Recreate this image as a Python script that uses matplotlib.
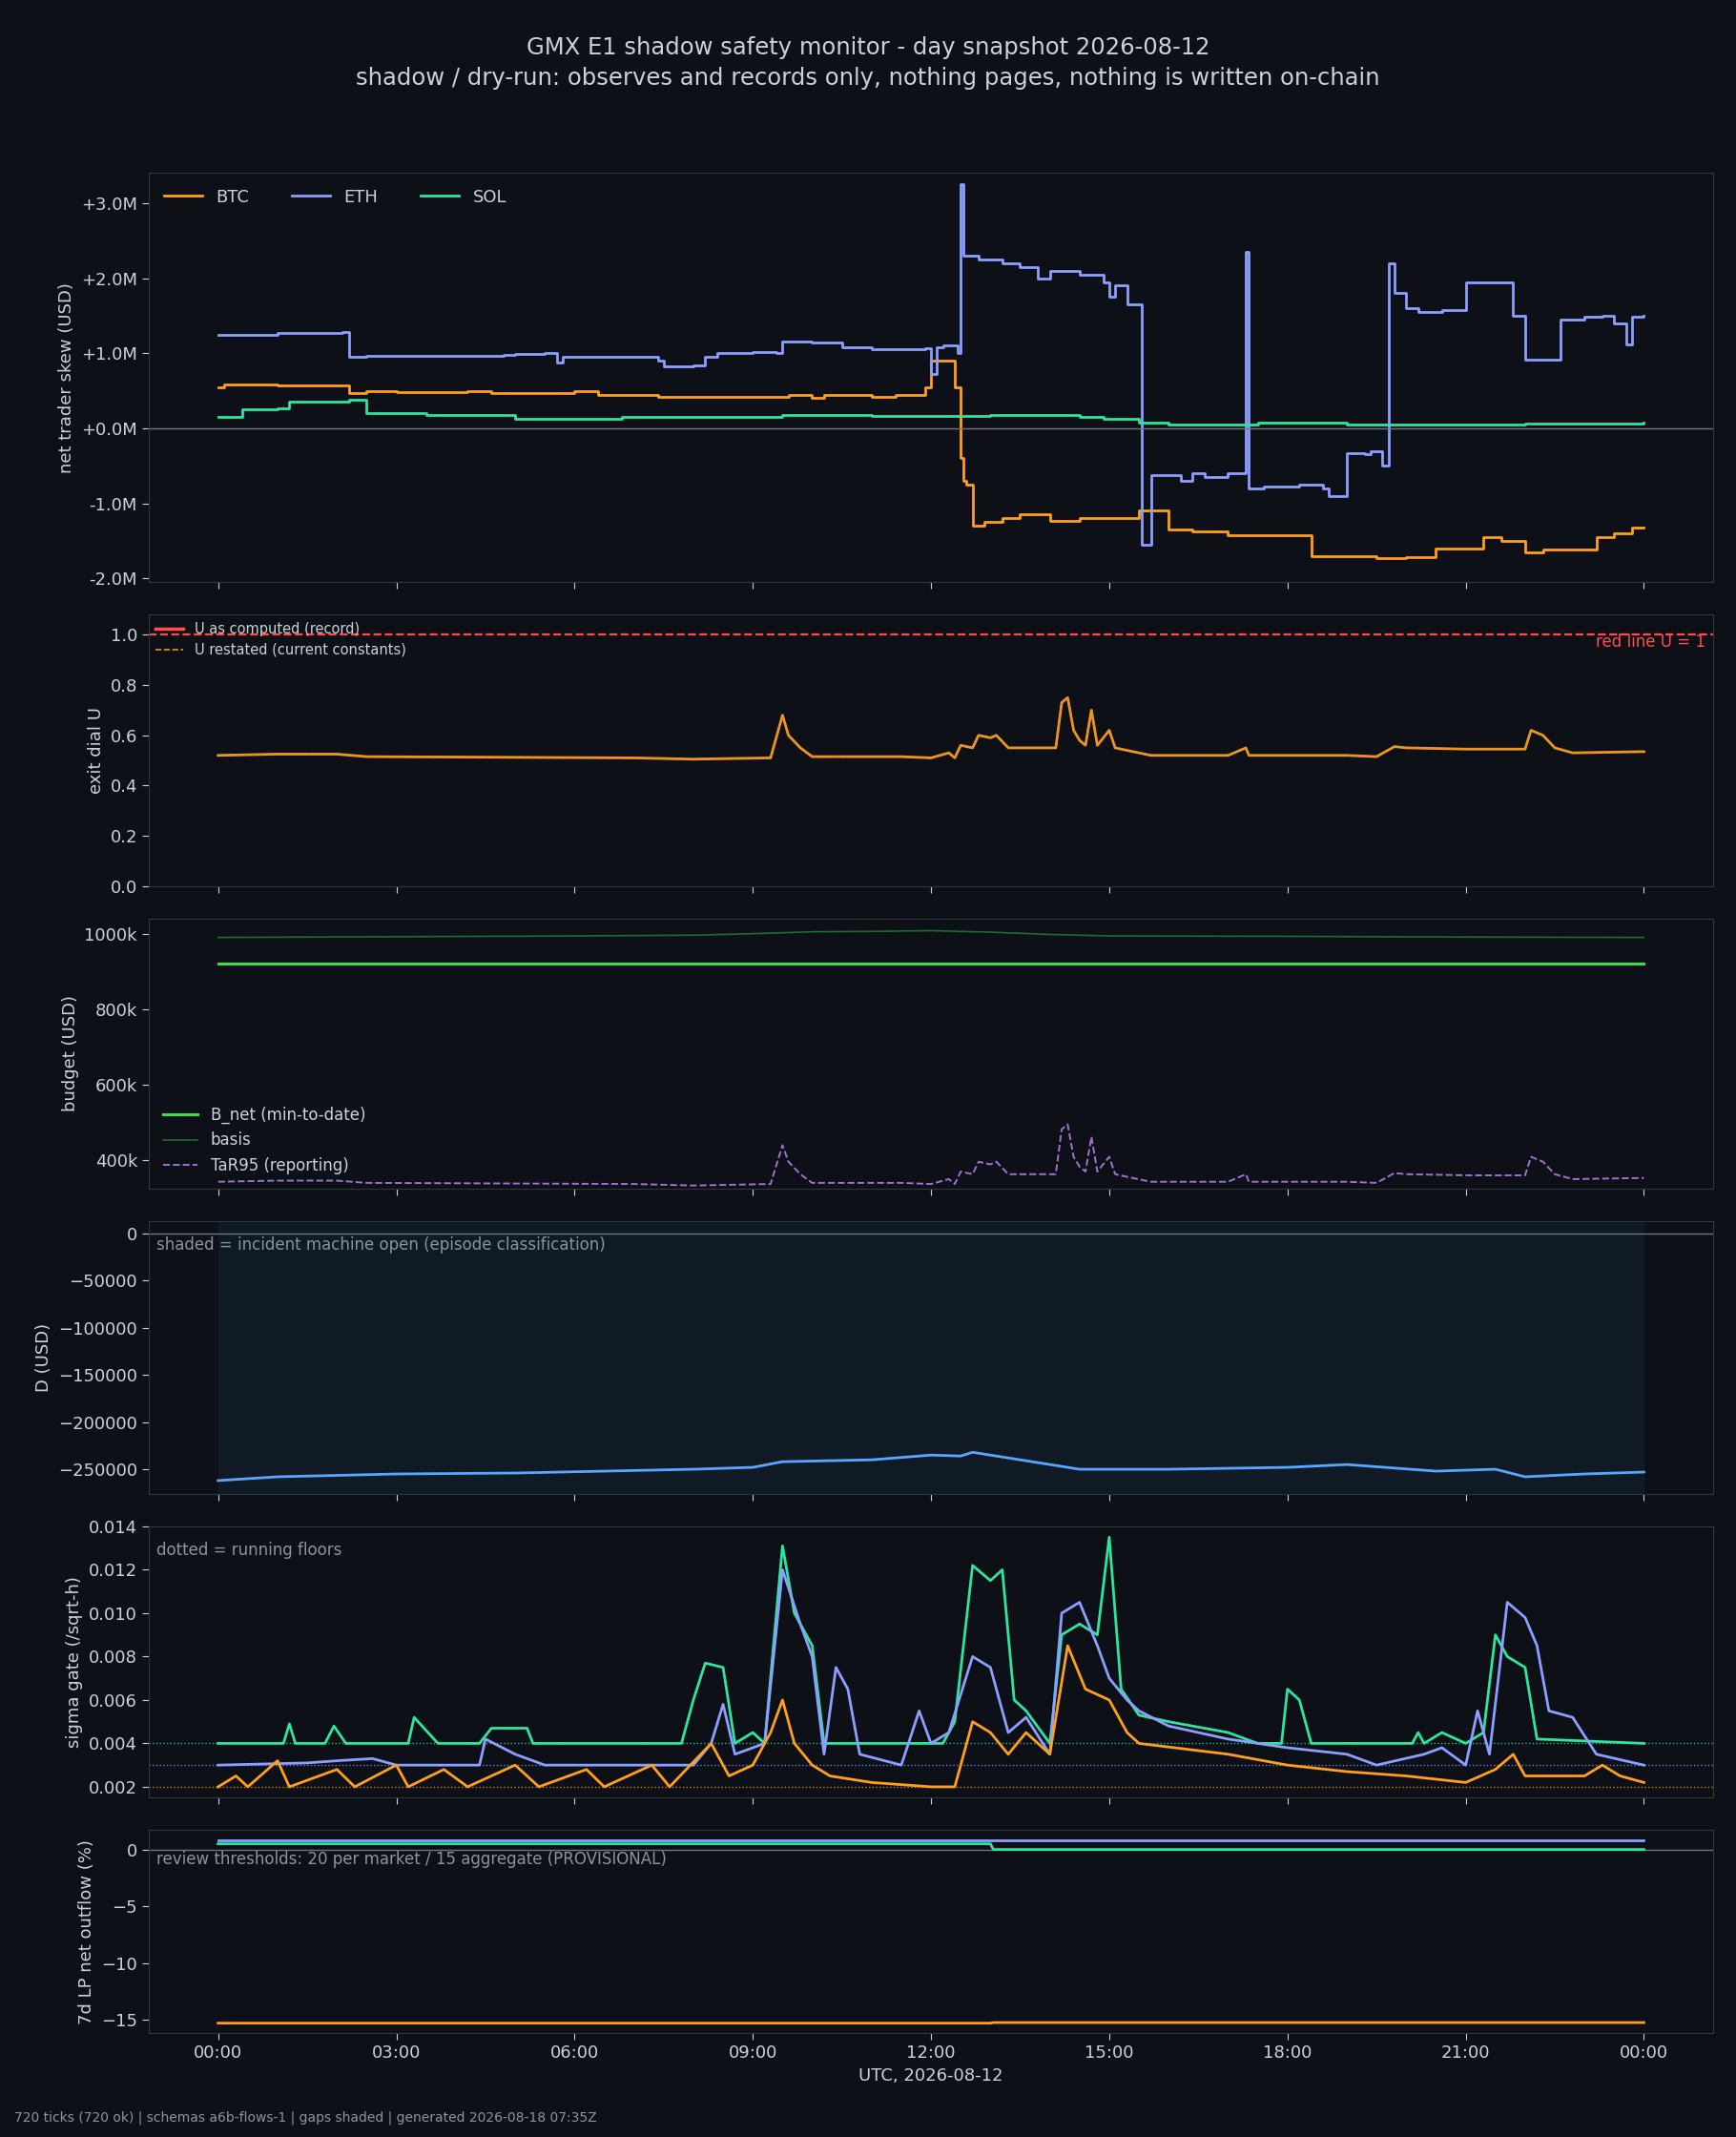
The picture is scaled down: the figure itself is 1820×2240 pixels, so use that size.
import matplotlib
matplotlib.use("Agg")
import matplotlib.pyplot as plt
from matplotlib.ticker import FuncFormatter

eth_skew_h = [0, 1.0, 2.1, 2.2, 2.5, 3.4, 4.8, 5.0, 5.5, 5.7, 5.8, 7.0, 7.4, 7.5, 8.0, 8.2, 8.4, 9.0, 9.4, 9.5,
              10.0, 10.5, 11.0, 11.5, 11.9, 12.0, 12.1, 12.2, 12.45, 12.5, 12.55, 12.8, 13.2, 13.5,
              13.8, 14.0, 14.5, 14.9, 15.0, 15.1, 15.3, 15.55, 15.7, 16.0, 16.2, 16.4, 16.6, 17.0, 17.3, 17.35,
              17.6, 18.2, 18.6, 18.7, 19.0, 19.3, 19.4, 19.6, 19.7, 19.8, 20.0, 20.2, 20.6, 21.0, 21.7, 21.8, 22.0,
              22.6, 23.0, 23.3, 23.5, 23.7, 23.8, 24.0]
eth_skew = [1.25, 1.27, 1.28, 0.95, 0.97, 0.96, 0.98, 0.99, 1.0, 0.87, 0.95, 0.95, 0.9, 0.83, 0.84, 0.95, 1.0,
            1.02, 1.0, 1.15, 1.14, 1.08, 1.05, 1.06, 1.07, 0.72, 1.08, 1.1, 1.0, 3.25, 2.3, 2.25, 2.2,
            2.15, 2.0, 2.1, 2.05, 1.95, 1.75, 1.9, 1.65, -1.55, -0.62, -0.62, -0.7, -0.6, -0.65, -0.6, 2.35, -0.8,
            -0.78, -0.75, -0.8, -0.9, -0.33, -0.35, -0.3, -0.5, 2.2, 1.8, 1.6, 1.55, 1.58, 1.95, 1.95, 1.5, 0.92,
            1.45, 1.48, 1.5, 1.4, 1.12, 1.48, 1.5]
btc_skew_h = [0, 0.1, 1.0, 2.2, 2.5, 3.0, 4.0, 4.2, 4.6, 5.5, 6.0, 6.4, 7.2, 7.4, 9.0, 9.6, 10.0, 10.2, 11.0, 11.4,
              11.8, 11.9, 12.0, 12.3, 12.4, 12.5, 12.55, 12.6, 12.7, 12.9, 13.2, 13.5, 14.0, 14.5, 15.0, 15.5, 16.0,
              16.4, 17.0, 18.0, 18.4, 19.0, 19.5, 20.0, 20.5, 21.0, 21.3, 21.6, 22.0, 22.3, 23.0, 23.2, 23.5, 23.8, 24.0]
btc_skew = [0.55, 0.58, 0.57, 0.47, 0.5, 0.48, 0.48, 0.5, 0.47, 0.47, 0.5, 0.45, 0.45, 0.42, 0.42, 0.44, 0.4, 0.44,
            0.42, 0.44, 0.44, 0.55, 0.9, 0.9, 0.55, -0.4, -0.7, -0.75, -1.3, -1.25, -1.2, -1.15, -1.23, -1.2, -1.2,
            -1.1, -1.35, -1.38, -1.42, -1.42, -1.7, -1.7, -1.73, -1.72, -1.6, -1.6, -1.45, -1.5, -1.65, -1.62, -1.62,
            -1.45, -1.4, -1.32, -1.32]
sol_skew_h = [0, 0.4, 1.0, 1.2, 2.2, 2.5, 3.5, 5.0, 6.0, 6.8, 9.5, 11.0, 13.0, 14.5, 14.9, 15.5, 16.0, 17.5, 19.0,
              22.0, 24.0]
sol_skew = [0.15, 0.25, 0.27, 0.35, 0.38, 0.2, 0.18, 0.12, 0.12, 0.15, 0.18, 0.17, 0.18, 0.15, 0.12, 0.08, 0.05,
            0.08, 0.05, 0.06, 0.07]

u_h = [0, 1, 2, 2.5, 7, 8, 9.3, 9.5, 9.6, 9.8, 10, 11.5, 12, 12.3, 12.4, 12.5, 12.7, 12.8, 13.0, 13.1, 13.3, 14.1,
       14.2, 14.3, 14.4, 14.5, 14.6, 14.7, 14.8, 15.0, 15.1, 15.3, 15.7, 17.0, 17.3, 17.35, 19.0, 19.5, 19.8, 20.0,
       21.0, 22.0, 22.1, 22.3, 22.5, 22.8, 24.0]
u_record = [0.52, 0.525, 0.525, 0.515, 0.51, 0.505, 0.51, 0.68, 0.6, 0.55, 0.515, 0.515, 0.51, 0.53, 0.51, 0.56,
            0.55, 0.6, 0.59, 0.6, 0.55, 0.55, 0.73, 0.75, 0.62, 0.58, 0.56, 0.7, 0.56, 0.62, 0.55, 0.54, 0.52, 0.52,
            0.55, 0.52, 0.52, 0.515, 0.555, 0.55, 0.545, 0.545, 0.62, 0.6, 0.55, 0.53, 0.535]
tar95_k = [343, 346, 346, 340, 337, 333, 337, 440, 396, 363, 340, 340, 337, 350, 337, 370, 363, 396, 389, 396, 363,
           363, 482, 495, 409, 383, 370, 462, 370, 409, 363, 356, 343, 343, 363, 343, 343, 340, 366, 363, 360, 360,
           409, 396, 363, 350, 353]

budget_h = [0, 3, 6, 8, 9, 10, 11, 12, 13, 14, 15, 18, 21, 24]
basis_k = [990, 992, 994, 996, 1000, 1005, 1006, 1008, 1004, 998, 994, 993, 991, 990]
b_net_k = [920] * len(budget_h)

d_h = [0, 1, 3, 5, 8, 9, 9.5, 11, 12, 12.5, 12.7, 13.5, 14.5, 16, 18, 19, 20.5, 21.5, 22, 23, 24]
d_usd = [-262000, -258000, -255000, -254000, -250000, -248000, -242000, -240000, -235000, -236000, -232000,
         -240000, -250000, -250000, -248000, -245000, -252000, -250000, -258000, -255000, -253000]

sol_sig_h = [0, 1.1, 1.2, 1.3, 1.8, 1.95, 2.15, 3.2, 3.3, 3.5, 3.7, 4.4, 4.6, 5.2, 5.3, 7.8, 8.0, 8.2, 8.5, 8.7,
             9.0, 9.2, 9.5, 9.7, 10.0, 10.2, 12.2, 12.4, 12.7, 13.0, 13.2, 13.4, 13.6, 14.0, 14.2, 14.5, 14.8, 15.0,
             15.2, 15.5, 16.0, 17.0, 17.5, 17.9, 18.0, 18.2, 18.4, 20.1, 20.2, 20.3, 20.6, 21.0, 21.3, 21.5, 21.7,
             22.0, 22.2, 24.0]
sol_sig = [0.004, 0.004, 0.0049, 0.004, 0.004, 0.0048, 0.004, 0.004, 0.0052, 0.0046, 0.004, 0.004, 0.0047, 0.0047,
           0.004, 0.004, 0.006, 0.0077, 0.0075, 0.004, 0.0045, 0.004, 0.0131, 0.0100, 0.0085, 0.004, 0.004, 0.005,
           0.0122, 0.0115, 0.0120, 0.006, 0.0055, 0.004, 0.009, 0.0095, 0.009, 0.0135, 0.0065, 0.0053, 0.005,
           0.0045, 0.004, 0.004, 0.0065, 0.006, 0.004, 0.004, 0.0045, 0.004, 0.0045, 0.004, 0.0045, 0.009, 0.008,
           0.0075, 0.0042, 0.004]
eth_sig_h = [0, 1.5, 2.0, 2.6, 3.0, 4.4, 4.5, 5.0, 5.5, 8.0, 8.3, 8.5, 8.7, 9.2, 9.5, 9.8, 10.0, 10.2, 10.4, 10.6,
             10.8, 11.5, 11.8, 12.0, 12.3, 12.7, 13.0, 13.3, 13.6, 14.0, 14.2, 14.5, 14.8, 15.0, 15.3, 15.5, 16.0,
             17.0, 18.0, 19.0, 19.5, 20.3, 20.6, 21.0, 21.2, 21.4, 21.7, 22.0, 22.2, 22.4, 22.8, 23.2, 24.0]
eth_sig = [0.003, 0.0031, 0.0032, 0.0033, 0.003, 0.003, 0.0042, 0.0035, 0.003, 0.003, 0.004, 0.0058, 0.0035, 0.004,
           0.012, 0.0095, 0.008, 0.0035, 0.0075, 0.0065, 0.0035, 0.003, 0.0055, 0.004, 0.0045, 0.008, 0.0075,
           0.0045, 0.0052, 0.0035, 0.010, 0.0105, 0.0085, 0.007, 0.006, 0.0055, 0.0048, 0.0042, 0.0038, 0.0035,
           0.003, 0.0035, 0.0038, 0.003, 0.0055, 0.0035, 0.0105, 0.0098, 0.0085, 0.0055, 0.0052, 0.0035, 0.003]
btc_sig_h = [0, 0.3, 0.5, 1.0, 1.2, 2.0, 2.3, 3.0, 3.2, 3.8, 4.2, 5.0, 5.4, 6.2, 6.5, 7.3, 7.6, 8.3, 8.6, 9.0, 9.3,
             9.5, 9.7, 10.0, 10.3, 11.0, 12.0, 12.4, 12.7, 13.0, 13.3, 13.6, 14.0, 14.3, 14.6, 15.0, 15.3, 15.5,
             17.0, 18.0, 19.0, 20.0, 21.0, 21.5, 21.8, 22.0, 23.0, 23.3, 23.6, 24.0]
btc_sig = [0.002, 0.0025, 0.002, 0.0032, 0.002, 0.0028, 0.002, 0.003, 0.002, 0.0028, 0.002, 0.003, 0.002, 0.0028,
           0.002, 0.003, 0.002, 0.004, 0.0025, 0.003, 0.0045, 0.006, 0.004, 0.003, 0.0025, 0.0022, 0.002, 0.002,
           0.005, 0.0045, 0.0035, 0.0045, 0.0035, 0.0085, 0.0065, 0.006, 0.0045, 0.004, 0.0035, 0.003, 0.0027,
           0.0025, 0.0022, 0.0028, 0.0035, 0.0025, 0.0025, 0.003, 0.0025, 0.0022]
sigma_floors = {"BTC": 0.002, "ETH": 0.003, "SOL": 0.004}

lp_h = [0, 13.0, 13.05, 24]
lp_btc = [-15.3, -15.3, -15.25, -15.25]
lp_eth = [0.8, 0.8, 0.8, 0.8]
lp_sol = [0.5, 0.5, 0.0, 0.0]

# ---- style ----
BG = "#0d1117"
FG = "#c9d1d9"
SPINE = "#30363d"
C_BTC, C_ETH, C_SOL = "#ff9f1c", "#8c9eff", "#2ee59d"
plt.rcParams.update({
    "figure.facecolor": BG, "axes.facecolor": BG, "axes.edgecolor": SPINE,
    "text.color": FG, "axes.labelcolor": FG, "xtick.color": FG, "ytick.color": FG,
    "font.size": 13, "axes.labelsize": 13, "xtick.labelsize": 13, "ytick.labelsize": 13,
})

fig = plt.figure(figsize=(18.2, 22.4), dpi=100)
gs = fig.add_gridspec(6, 1, height_ratios=[300, 199, 198, 200, 199, 149],
                      left=0.0856, right=0.987, top=0.919, bottom=0.0485, hspace=0.115)
axes = [fig.add_subplot(gs[0])]
for i in range(1, 6):
    axes.append(fig.add_subplot(gs[i], sharex=axes[0]))

fig.suptitle("GMX E1 shadow safety monitor - day snapshot 2026-08-12\n"
             "shadow / dry-run: observes and records only, nothing pages, nothing is written on-chain",
             fontsize=17.5, y=0.983, color=FG, linespacing=1.4)

# panel 1: skew
ax = axes[0]
ax.step(btc_skew_h, btc_skew, where="post", color=C_BTC, lw=2, label="BTC")
ax.step(eth_skew_h, eth_skew, where="post", color=C_ETH, lw=2, label="ETH")
ax.step(sol_skew_h, sol_skew, where="post", color=C_SOL, lw=2, label="SOL")
ax.axhline(0, color="#6e7681", lw=1)
ax.set_ylim(-2.05, 3.4)
ax.set_yticks([-2, -1, 0, 1, 2, 3])
ax.yaxis.set_major_formatter(FuncFormatter(lambda v, p: f"{v:+.1f}M"))
ax.set_ylabel("net trader skew (USD)")
ax.legend(loc="upper left", ncol=3, frameon=False, fontsize=13, handlelength=2.2, columnspacing=2.5)

# panel 2: exit dial U
ax = axes[1]
ax.plot(u_h, u_record, color="#ff8c2a", lw=2)
ax.plot(u_h, u_record, color="#d4a017", lw=1.2, ls="--", label="U restated (current constants)")
ax.plot([], [], color="#ff4d4d", lw=2.5, label="U as computed (record)")
ax.axhline(1.0, color="#ff4d4d", lw=1.6, ls="--")
ax.set_ylim(0, 1.08)
ax.set_yticks([0, 0.2, 0.4, 0.6, 0.8, 1.0])
ax.set_ylabel("exit dial U")
hs, ls = ax.get_legend_handles_labels()
ax.legend(hs[::-1], ls[::-1], loc="upper left", frameon=False, fontsize=10.5, borderaxespad=0.1, handlelength=2)
ax.text(0.995, 0.93, "red line U = 1", transform=ax.transAxes, ha="right", va="top",
        color="#ff4d4d", fontsize=12)

# panel 3: budget
ax = axes[2]
ax.plot(budget_h, b_net_k, color="#3ddc4f", lw=2.2, label="B_net (min-to-date)")
ax.plot(budget_h, basis_k, color="#1f6b2f", lw=1.2, label="basis")
ax.plot(u_h, tar95_k, color="#a070d0", lw=1.4, ls="--", label="TaR95 (reporting)")
ax.set_ylim(325, 1040)
ax.set_yticks([400, 600, 800, 1000])
ax.yaxis.set_major_formatter(FuncFormatter(lambda v, p: f"{v:.0f}k"))
ax.set_ylabel("budget (USD)")
ax.legend(loc="lower left", frameon=False, fontsize=12, handlelength=2.2)

# panel 4: D
ax = axes[3]
ax.axvspan(0, 24, color="#0f1a24", zorder=0)
ax.axhline(0, color="#6e7681", lw=1)
ax.plot(d_h, d_usd, color="#58a6ff", lw=2)
ax.set_ylim(-276000, 13000)
ax.set_yticks([-250000, -200000, -150000, -100000, -50000, 0])
ax.set_ylabel("D (USD)")
ax.text(0.005, 0.945, "shaded = incident machine open (episode classification)", transform=ax.transAxes,
        ha="left", va="top", color="#8b949e", fontsize=12)

# panel 5: sigma gate
ax = axes[4]
for name, hh, vv, c in [("SOL", sol_sig_h, sol_sig, C_SOL), ("ETH", eth_sig_h, eth_sig, C_ETH),
                        ("BTC", btc_sig_h, btc_sig, C_BTC)]:
    ax.axhline(sigma_floors[name], color=c, lw=1, ls=":", alpha=0.8)
    ax.plot(hh, vv, color=c, lw=2)
ax.set_ylim(0.0015, 0.0140)
ax.set_yticks([0.002, 0.004, 0.006, 0.008, 0.010, 0.012, 0.014])
ax.yaxis.set_major_formatter(FuncFormatter(lambda v, p: f"{v:.3f}"))
ax.set_ylabel("sigma gate (/sqrt-h)")
ax.text(0.005, 0.945, "dotted = running floors", transform=ax.transAxes, ha="left", va="top",
        color="#8b949e", fontsize=12)

# panel 6: LP outflow
ax = axes[5]
ax.axhline(0, color="#6e7681", lw=1)
ax.plot(lp_h, lp_btc, color=C_BTC, lw=2)
ax.plot(lp_h, lp_eth, color=C_ETH, lw=2)
ax.plot(lp_h, lp_sol, color=C_SOL, lw=2)
ax.set_ylim(-16.2, 1.7)
ax.set_yticks([-15, -10, -5, 0])
ax.set_ylabel("7d LP net outflow (%)")
ax.text(0.005, 0.9, "review thresholds: 20 per market / 15 aggregate (PROVISIONAL)", transform=ax.transAxes,
        ha="left", va="top", color="#8b949e", fontsize=12)

xt = list(range(0, 25, 3))
ax.set_xticks(xt)
ax.set_xticklabels([f"{t % 24:02d}:00" for t in xt])
ax.set_xlim(-1.17, 25.17)
ax.set_xlabel("UTC, 2026-08-12")
for a in axes[:-1]:
    a.tick_params(labelbottom=False)
for a in axes:
    a.tick_params(length=5)

fig.text(0.008, 0.006, "720 ticks (720 ok) | schemas a6b-flows-1 | gaps shaded | generated 2026-08-18 07:35Z",
         fontsize=10, color="#8b949e", ha="left", va="bottom")

fig.savefig("out.png", dpi=100, facecolor=BG)
